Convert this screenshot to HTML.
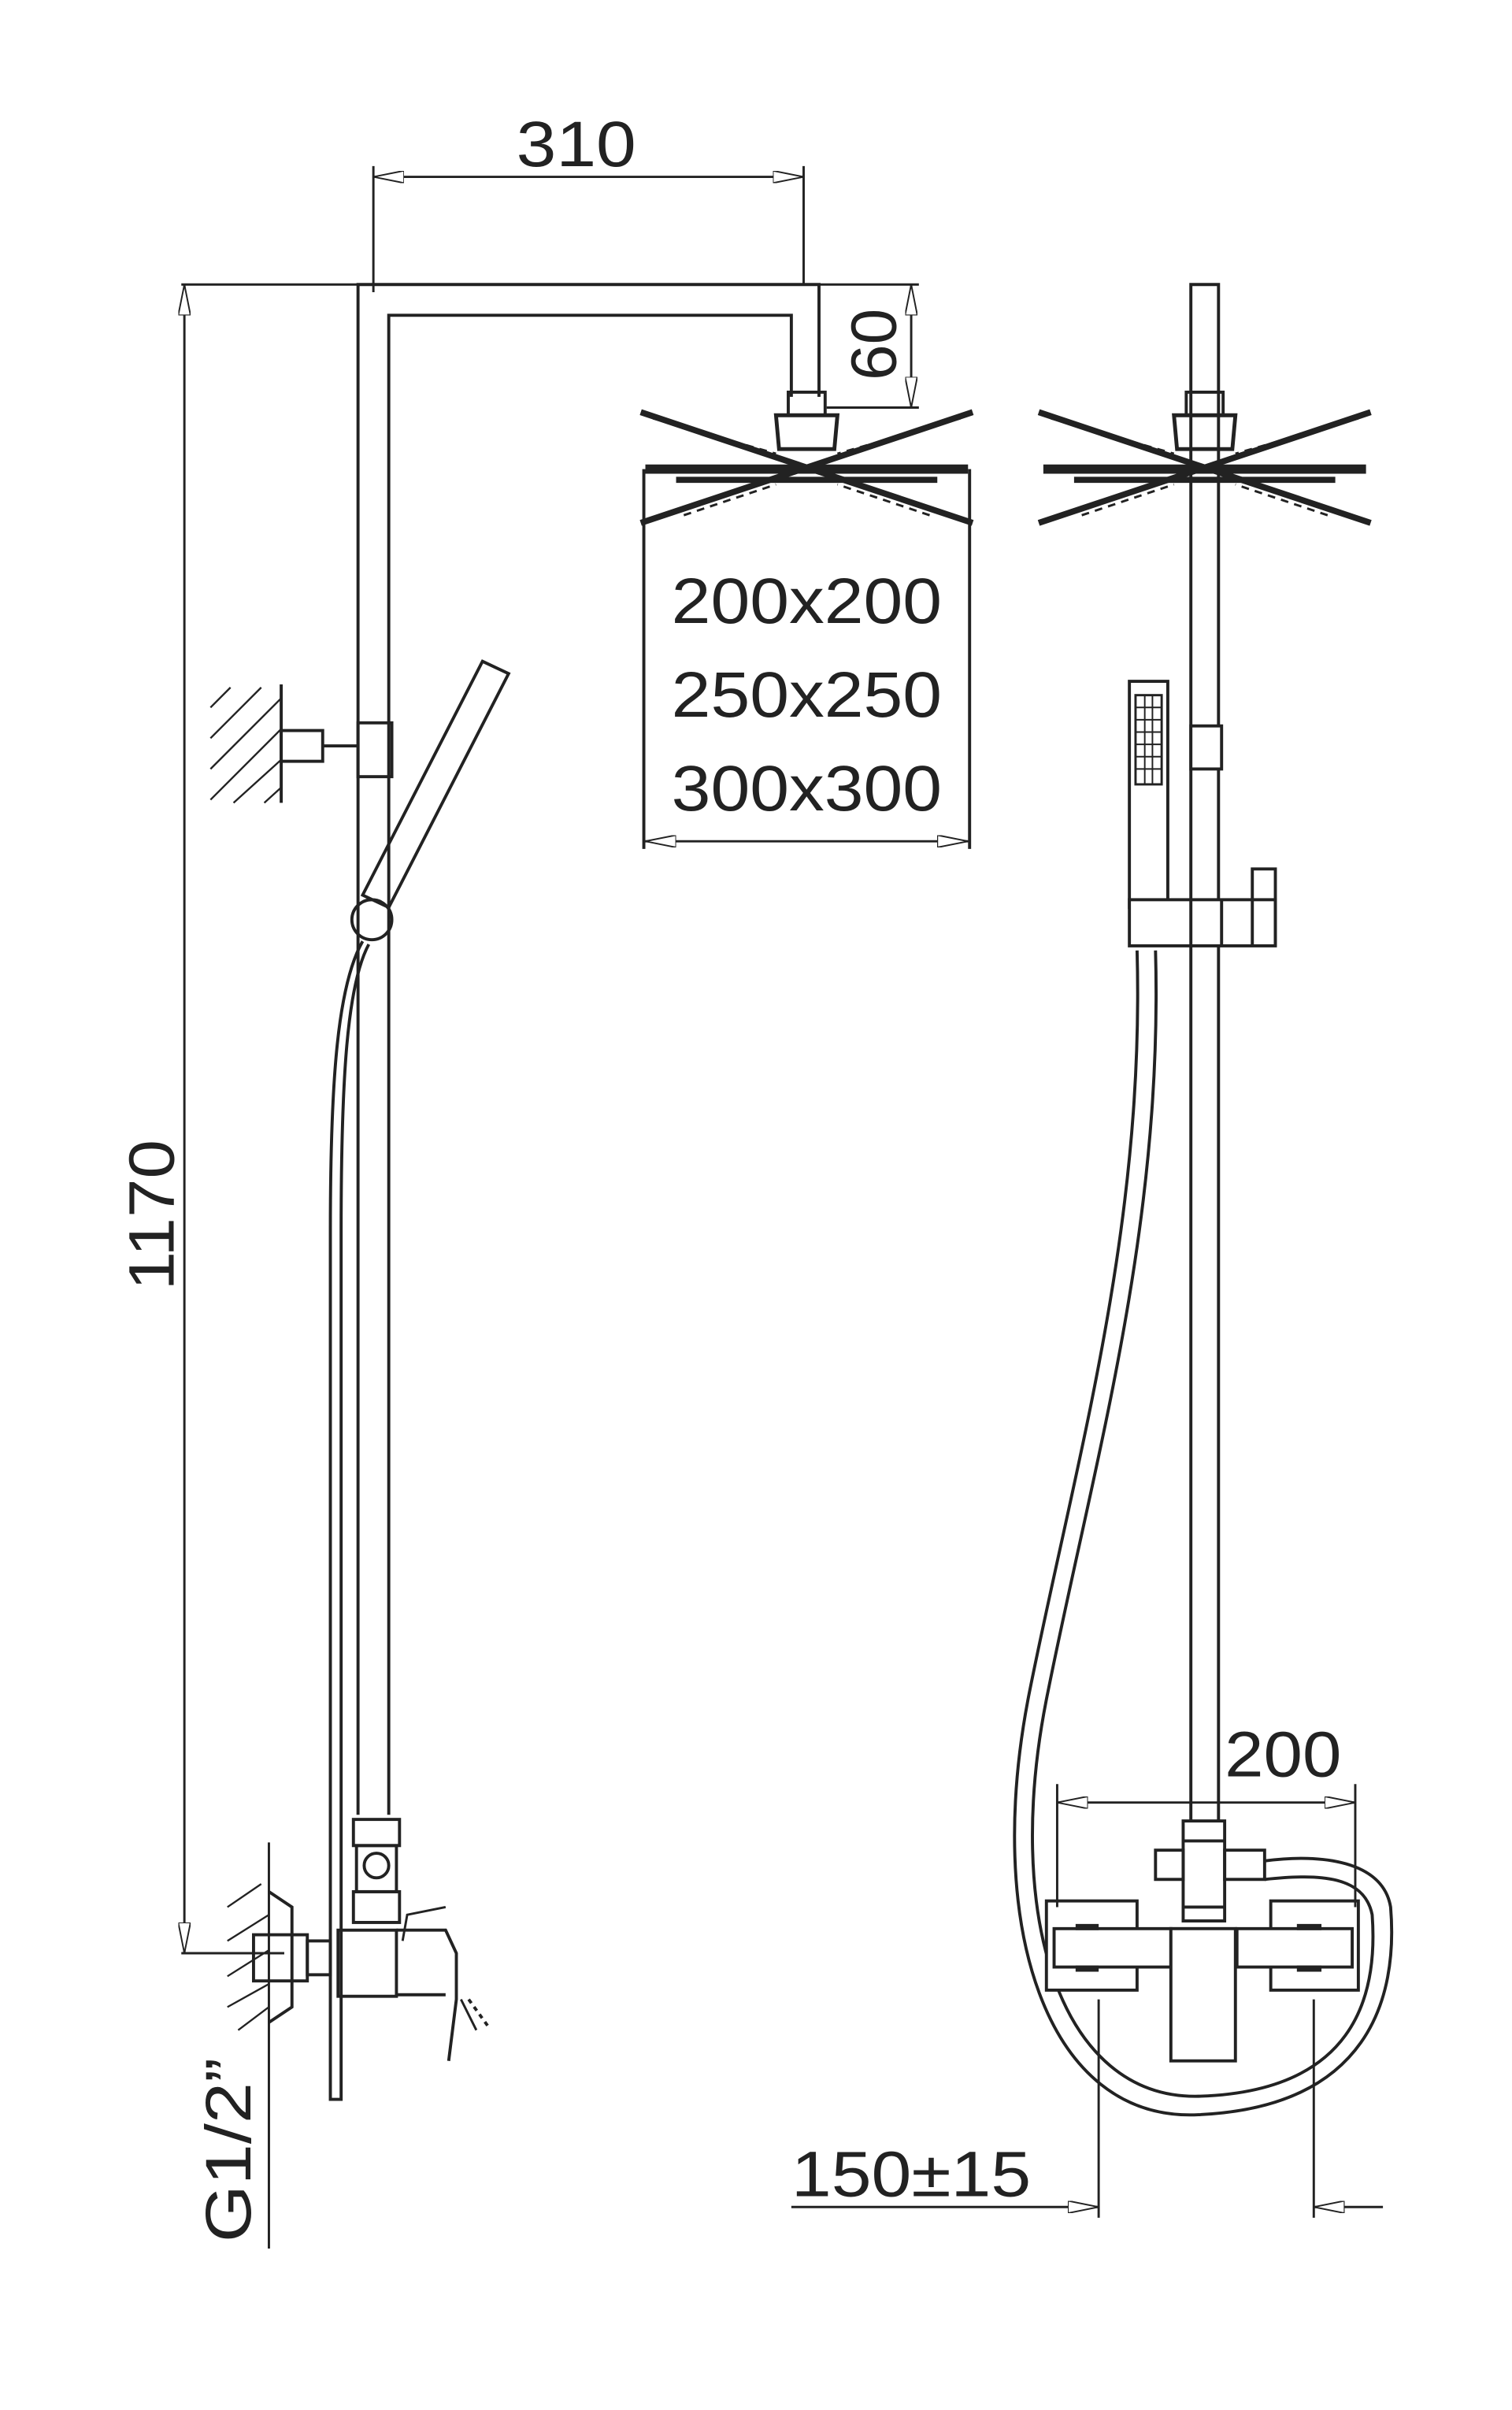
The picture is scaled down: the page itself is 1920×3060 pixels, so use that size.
<!DOCTYPE html>
<html><head><meta charset="utf-8"><style>
html,body{margin:0;padding:0;background:#fff;}
svg{display:block;}
text{font-family:"Liberation Sans","DejaVu Sans",sans-serif;fill:#222;}
</style></head><body>
<svg width="1920" height="3060" viewBox="0 0 984 1567" preserveAspectRatio="none" xmlns="http://www.w3.org/2000/svg">
<defs>
<marker id="a" viewBox="0 0 20 8" refX="20" refY="4" markerWidth="20" markerHeight="8" markerUnits="userSpaceOnUse" orient="auto-start-reverse">
<path d="M0,0 L20,4 L0,8 Z" fill="#fff" stroke="#222" stroke-width="1"/>
</marker>
<g id="head" fill="none" stroke="#222">
<rect x="-12" y="-45" width="24" height="15" stroke-width="2"/>
<path d="M-20,-30 H20 L18,-8 H-18 Z" stroke-width="2.5"/>
<path d="M-108,-32 L108,40 M108,-32 L-108,40" stroke-width="4"/>
<path d="M-100,-28 L-20,-5 M100,-28 L20,-5 M-80,35 L-20,15 M80,35 L20,15" stroke-width="1.5" stroke-dasharray="5,4"/>
<line x1="-105" y1="5" x2="105" y2="5" stroke-width="6"/>
<line x1="-85" y1="12" x2="85" y2="12" stroke-width="4"/>
</g>
</defs>
<g fill="none" stroke="#222" stroke-width="2">
<!-- 310 dim -->
<line x1="243" y1="108" x2="243" y2="190" stroke-width="1.5"/>
<line x1="523" y1="108" x2="523" y2="185" stroke-width="1.5"/>
<line x1="243" y1="115" x2="523" y2="115" stroke-width="1.5" marker-start="url(#a)" marker-end="url(#a)"/>
<!-- pipe -->
<line x1="118" y1="185" x2="295" y2="185" stroke-width="1.5"/>
<path d="M233,1180 V185 H533 V258"/>
<path d="M253,1180 V205 H515 V258"/>
<!-- 60 dim -->
<line x1="490" y1="185" x2="598" y2="185" stroke-width="1.5"/>
<line x1="538" y1="265" x2="598" y2="265" stroke-width="1.5"/>
<line x1="593" y1="185" x2="593" y2="265" stroke-width="1.5" marker-start="url(#a)" marker-end="url(#a)"/>
<use href="#head" x="525" y="300"/>
<!-- box -->
<line x1="419" y1="305" x2="419" y2="552" stroke-width="2"/>
<line x1="631" y1="305" x2="631" y2="552" stroke-width="2"/>
<line x1="420" y1="547" x2="630" y2="547" stroke-width="1.5" marker-start="url(#a)" marker-end="url(#a)"/>
<!-- 1170 -->
<line x1="120" y1="185" x2="120" y2="1270" stroke-width="1.5" marker-start="url(#a)" marker-end="url(#a)"/>
<line x1="118" y1="1270" x2="185" y2="1270" stroke-width="1.5"/>
<!-- wall bracket -->
<line x1="183" y1="445" x2="183" y2="522"/>
<path d="M137,460 L150,447 M137,480 L170,447 M137,500 L183,454 M137,520 L183,474 M152,522 L183,494 M172,522 L183,512" stroke-width="1.2"/>
<rect x="183" y="475" width="27" height="20"/>
<line x1="210" y1="485" x2="233" y2="485"/>
<rect x="233" y="470" width="22" height="35"/>
<!-- handshower left -->
<path d="M314,430 L331,438 L253,590 L236,582 Z" stroke-width="2"/>
<circle cx="242" cy="598" r="13"/>
<path d="M236,612 C220,640 215,700 215,800 V1365 H222 V800 C222,700 226,640 240,614"/>
<!-- bottom left valve -->
<line x1="175" y1="1198" x2="175" y2="1462" stroke-width="1.5"/>
<path d="M148,1240 L170,1225 M148,1262 L175,1245 M148,1285 L175,1268 M148,1305 L175,1290 M155,1320 L175,1305" stroke-width="1.2"/>
<path d="M175,1230 L190,1240 V1305 L175,1315" />
<rect x="165" y="1258" width="35" height="30"/>
<rect x="200" y="1262" width="15" height="22"/>
<rect x="230" y="1183" width="30" height="17"/>
<rect x="232" y="1200" width="26" height="30"/>
<circle cx="245" cy="1213" r="8"/>
<rect x="230" y="1230" width="30" height="20"/>
<rect x="220" y="1255" width="38" height="43"/>
<path d="M258,1255 H290 L297,1270 V1300 L292,1340 M258,1297 H290" />
<path d="M262,1262 L265,1245 L290,1240 M300,1300 L310,1320" stroke-width="1.5"/>
<path d="M305,1300 L318,1318" stroke-width="2" stroke-dasharray="3,3"/>
<!-- right view pole -->
<path d="M775,1190 V185 H793 V1190"/>
<use href="#head" x="784" y="300"/>
<rect x="775" y="472" width="20" height="28" fill="#fff"/>
<!-- handshower right -->
<rect x="735" y="443" width="25" height="147"/>
<rect x="739" y="452" width="17" height="58" stroke-width="1.5"/>
<path d="M739,460 H756 M739,468 H756 M739,476 H756 M739,484 H756 M739,492 H756 M739,500 H756 M745,452 V510 M750,452 V510" stroke-width="1"/>
<rect x="735" y="585" width="95" height="30" fill="#fff"/>
<path d="M815,615 V565 H830 V615"/>
<path d="M775,585 V615 M795,585 V615"/>
<!-- hose right -->
<path d="M740,618 C745,800 700,950 670,1100 C640,1250 680,1380 780,1375 C890,1370 910,1300 905,1240 C900,1210 860,1205 823,1210"/>
<path d="M752,618 C757,800 712,950 682,1100 C652,1245 690,1365 780,1363 C880,1360 897,1300 893,1245 C888,1220 860,1218 823,1222"/>
<!-- mixer right -->
<rect x="770" y="1184" width="27" height="65" fill="#fff"/>
<path d="M770,1197 H797 M770,1240 H797"/>
<rect x="752" y="1203" width="18" height="19"/>
<rect x="797" y="1203" width="26" height="19"/>
<rect x="681" y="1236" width="59" height="58" fill="#fff"/>
<rect x="827" y="1236" width="57" height="58" fill="#fff"/>
<path d="M686,1254 H762 V1279 H686 Z M805,1254 H880 V1279 H805 Z" fill="#fff"/>
<rect x="762" y="1254" width="42" height="86" fill="#fff"/>
<path d="M700,1253 H715 M700,1280 H715 M844,1253 H860 M844,1280 H860" stroke-width="4"/>
<!-- 200 dim -->
<line x1="688" y1="1160" x2="688" y2="1240" stroke-width="1.5"/>
<line x1="882" y1="1160" x2="882" y2="1240" stroke-width="1.5"/>
<line x1="688" y1="1172" x2="882" y2="1172" stroke-width="1.5" marker-start="url(#a)" marker-end="url(#a)"/>
<!-- 150 dim -->
<line x1="715" y1="1300" x2="715" y2="1442" stroke-width="1.5"/>
<line x1="855" y1="1300" x2="855" y2="1442" stroke-width="1.5"/>
<line x1="515" y1="1435" x2="715" y2="1435" stroke-width="1.5" marker-end="url(#a)"/>
<line x1="900" y1="1435" x2="855" y2="1435" stroke-width="1.5" marker-end="url(#a)"/>
</g>
<g font-size="42">
<text x="375" y="108" text-anchor="middle" textLength="78" lengthAdjust="spacingAndGlyphs">310</text>
<text x="525" y="405" text-anchor="middle" textLength="176" lengthAdjust="spacingAndGlyphs">200x200</text>
<text x="525" y="466" text-anchor="middle" textLength="176" lengthAdjust="spacingAndGlyphs">250x250</text>
<text x="525" y="527" text-anchor="middle" textLength="176" lengthAdjust="spacingAndGlyphs">300x300</text>
<text x="835" y="1155" text-anchor="middle" textLength="76" lengthAdjust="spacingAndGlyphs">200</text>
<text x="593" y="1428" text-anchor="middle" textLength="156" lengthAdjust="spacingAndGlyphs">150±15</text>
<text transform="translate(113,790) rotate(-90)" text-anchor="middle" textLength="98" lengthAdjust="spacingAndGlyphs">1170</text>
<text transform="translate(583,224) rotate(-90)" text-anchor="middle">60</text>
<text transform="translate(163,1398) rotate(-90)" text-anchor="middle" textLength="120" lengthAdjust="spacingAndGlyphs">G1/2”</text>
</g>
</svg>
</body></html>
